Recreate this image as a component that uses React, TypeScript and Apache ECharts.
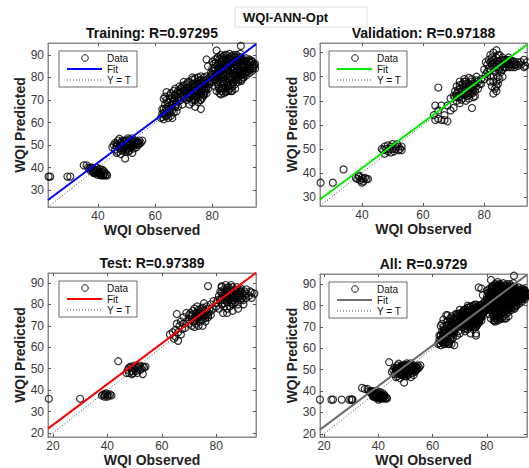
import React, { useEffect, useRef } from "react";
import * as echarts from "echarts";

const trainingPoints: number[][] = [
  [22.7, 36], [23.3, 36], [29.3, 36], [30.3, 36], [35, 41], [36, 41], [36.5, 40], [37, 39.5], [37.5, 40], [38, 39],
  [38.5, 38.5], [38, 40], [39, 39], [39.5, 38], [40, 37.5], [40.5, 38], [40, 39], [41, 37], [41.5, 38], [42, 37],
  [42.5, 36.5], [41, 36.5], [39, 37.5], [39.5, 40], [40.5, 39.5], [38.5, 37.5], [41.5, 39], [42, 38.5], [37.5, 38.5], [43, 37],
  [38.3, 38], [39.3, 38.8], [40.3, 38.2], [41.3, 37.8], [40.8, 37], [39.8, 36.8], [42.3, 37.8], [37.8, 39.5], [41.8, 36.5], [43.2, 36.5],
  [45, 49], [45.5, 50], [46, 48], [46, 51], [46.5, 49.5], [47, 47], [47, 50], [47, 52], [47.5, 48.5], [48, 49],
  [48, 51], [48, 50], [48.5, 47.5], [48.5, 52], [49, 48], [49, 50], [49, 51.5], [49.5, 49], [50, 50], [50, 52],
  [50, 48], [50.5, 51], [50.5, 49.5], [51, 50], [51, 52.5], [51, 47.5], [51.5, 49], [51.5, 51], [52, 50], [52, 52],
  [52.5, 48.5], [52.5, 51], [53, 50], [53, 52], [53.5, 49], [54, 51], [54, 50], [54.5, 52], [55, 51], [55.5, 52],
  [49.5, 44], [46.5, 46.5], [48, 46], [52, 46.5], [50.5, 53],
  [46.5, 50.5], [47.3, 49], [47.8, 51], [48.3, 48.5], [48.8, 50.5], [49.3, 52], [49.8, 49.5], [50.3, 50.5], [50.8, 48.5], [51.3, 51.5],
  [51.8, 50], [52.3, 49.5], [52.8, 51.5], [53.3, 50.5], [53.8, 51.5], [49.5, 47], [50.5, 47], [54.5, 50.5], [47.5, 52.8], [52, 53],
  [62, 62], [62.5, 64], [63, 61.5], [63, 66], [63.5, 63], [63.5, 68], [64, 65], [64, 70], [64.5, 62], [64.5, 67],
  [65, 64], [65, 72], [65, 69], [65.5, 66], [65.5, 73], [66, 62], [66, 68], [66, 71], [66.5, 64.5], [66.5, 74],
  [67, 67], [67, 70], [67, 72.5], [67.5, 65], [67.5, 69], [68, 71], [68, 74], [68, 67], [68.5, 73], [69, 70],
  [69, 75], [69.5, 68], [69.5, 72], [70, 74], [70, 71], [64, 73.5], [66, 65.5], [63, 70.5],
  [62.5, 66], [63, 64], [63.8, 66], [64.3, 69], [64.8, 65.5], [65.3, 70.5], [65.8, 67.5], [66.3, 69.5], [66.8, 72], [67.3, 68],
  [67.8, 73], [68.3, 69.5], [68.8, 71.5], [62.5, 62.5], [64, 63], [65.5, 63], [63.5, 71.5], [67, 75], [68.5, 76],
  [69, 73], [69.5, 76], [70, 72], [70, 76.5], [70.5, 74], [71, 70], [71, 73], [71, 77], [71.5, 75], [72, 68],
  [72, 71], [72, 74], [72, 78], [72.5, 76], [73, 69], [73, 72], [73, 75], [73, 79], [73.5, 71], [73.5, 77],
  [74, 67], [74, 70], [74, 73], [74, 76], [74, 79.5], [74.5, 72], [74.5, 78], [75, 69], [75, 71], [75, 74],
  [75, 77], [75, 80], [75.5, 72.5], [75.5, 75.5], [76, 66], [76, 70], [76, 73], [76, 76], [76, 79], [76.5, 71],
  [76.5, 78], [77, 72], [77, 75], [77, 80], [77.5, 74], [77.5, 77], [78, 73], [78, 76], [78, 79], [78.5, 75],
  [79, 77], [79, 80], [70.5, 71], [72.5, 72.5], [73.5, 74], [71.5, 72], [74.5, 74.5], [76.5, 74], [75.5, 78.5], [77.5, 78.5],
  [70.2, 75], [70.8, 73], [71.2, 75.5], [71.8, 71], [72.3, 73], [72.8, 77], [73.2, 70], [73.8, 76], [74.2, 71.5], [74.8, 77],
  [75.2, 75.5], [75.8, 70], [76.2, 77.5], [76.8, 72.5], [77.2, 76.5], [77.8, 75], [78.2, 77.5], [78.8, 78], [79.3, 78.5], [79.7, 81],
  [73.3, 73], [74.3, 75], [75.3, 72.5], [76.3, 75], [77.3, 73], [71.3, 74], [72.8, 74.5], [74.8, 73.5], [75.8, 76.5], [77, 78.5],
  [78, 80.5], [76, 80.5], [73, 80], [71.5, 78], [70, 78],
  [78, 88], [78.5, 85],
  [79.5, 82], [80, 78], [80, 84], [80, 87], [80.5, 80], [80.5, 86], [81, 76], [81, 79], [81, 83], [81, 88],
  [81.5, 74], [81.5, 81], [81.5, 85], [81.5, 92], [82, 77], [82, 80], [82, 83], [82, 86], [82, 89], [82.5, 73],
  [82.5, 75], [82.5, 82], [82.5, 88], [83, 74], [83, 78], [83, 81], [83, 84], [83, 87], [83, 90], [83.5, 76],
  [83.5, 80], [83.5, 85], [83.5, 89], [84, 73], [84, 77], [84, 82], [84, 86], [84, 88], [84.5, 75], [84.5, 79],
  [84.5, 84], [84.5, 90], [85, 74], [85, 78], [85, 81], [85, 85], [85, 88], [85.5, 76], [85.5, 83], [85.5, 87],
  [86, 75], [86, 79], [86, 82], [86, 86], [86, 89], [86.5, 77], [86.5, 84], [86.5, 88], [87, 76], [87, 80],
  [87, 83], [87, 86], [87, 89], [87.5, 78], [87.5, 82], [87.5, 85], [88, 77], [88, 81], [88, 84], [88, 87],
  [88, 89], [88.5, 79], [88.5, 83], [88.5, 86], [89, 78], [89, 80], [89, 82], [89, 85], [89, 88], [89.5, 84],
  [89.5, 87], [90, 79], [90, 81], [90, 83], [90, 86], [90, 88], [90, 94], [90.5, 82], [90.5, 85], [91, 80],
  [91, 83], [91, 86], [91, 88], [91.5, 82], [91.5, 85], [92, 81], [92, 84], [92, 87], [92.5, 83], [92.5, 86],
  [93, 82], [93, 85], [93, 88], [93.5, 84], [93.5, 86.5], [94, 83], [94, 85], [94, 87], [94.5, 86], [95, 84],
  [95, 86], [80, 81.5], [81, 81.5], [82.5, 84.5], [84, 80], [85.5, 80], [87, 74], [88, 75], [83, 72.5],
  [80.2, 83], [80.7, 79], [81.2, 86.5], [81.7, 78], [82.2, 84.5], [82.7, 79.5], [83.2, 86], [83.7, 78], [84.2, 84], [84.7, 87],
  [85.2, 76.5], [85.7, 85], [86.2, 80.5], [86.7, 87], [87.2, 79], [87.7, 84], [88.2, 82], [88.7, 88], [89.2, 81], [89.7, 83],
  [90.2, 87], [90.7, 80], [91.2, 84.5], [91.7, 87], [92.2, 82.5], [92.7, 85], [93.2, 83.5], [93.7, 87.5], [94.2, 84], [94.7, 85],
  [81.3, 80], [82.3, 81.5], [83.3, 83], [84.3, 81], [85.3, 83.5], [86.3, 84.5], [87.3, 81], [88.3, 85.5], [89.3, 83.5], [90.3, 84.5],
  [91.3, 81.5], [92.3, 85.5], [93.3, 86.5], [80.8, 84], [81.8, 88.5], [82.8, 87], [83.8, 88], [84.8, 86], [85.8, 88.5], [86.8, 89.5],
  [87.8, 87], [88.8, 89], [89.8, 89], [90.8, 87.5], [91.8, 88.5], [92.8, 87.5], [82.2, 76], [83.2, 75], [84.2, 75.5], [85.2, 77.5],
  [86.2, 77], [87.2, 77.5], [88.2, 79.5], [89.2, 79], [90.2, 78.5], [84.7, 73.5], [85.7, 74], [86.5, 74], [89.8, 90.5], [88.5, 90],
  [87.5, 90], [86, 90.5], [85, 90], [84, 89.5]
];

const validationPoints: number[][] = [
  [26.5, 36], [30.5, 36], [34, 41.5],
  [38, 38], [38.5, 37.5], [39, 38.5], [39.5, 37], [40, 36], [40, 38], [40.5, 37.5], [41, 38], [41.5, 37.5], [42, 37.5],
  [39, 39], [40.5, 36.5],
  [46.5, 50], [47, 49.5], [47.5, 48], [47.5, 51], [48, 50], [48.5, 49], [48.5, 51.5], [49, 50], [49.5, 48.5], [49.5, 51],
  [50, 50], [50, 52], [50.5, 49], [51, 51], [51, 50], [51.5, 52], [52, 49.5], [52, 51], [52.5, 50], [53, 51], [53, 49.5],
  [65, 75.5], [64, 68], [63.5, 64], [65, 66], [66, 62], [67, 62], [68, 68], [69, 71], [66, 68], [67, 64],
  [68, 61.5], [65, 62.5], [64, 62], [69, 66], [70, 67],
  [70, 72], [70.5, 74], [71, 70], [71, 73], [71, 76], [72, 69], [72, 72], [72, 75], [72, 78], [72.5, 70.5],
  [73, 71], [73, 74], [73, 77], [73.5, 79], [74, 70], [74, 73], [74, 76], [74, 78], [74.5, 72], [75, 71],
  [75, 74], [75, 77], [75, 79.5], [75.5, 75.5], [76, 67], [76, 73], [76, 76], [76, 79], [76.5, 71.5], [77, 74],
  [77, 77], [77.5, 80], [78, 75], [78, 78], [79, 77], [79, 79], [71.5, 71.5], [73.5, 72.5], [74.5, 75], [76.5, 74.5],
  [77, 72],
  [71.5, 74.5], [72.5, 73], [73.5, 75.5], [74.5, 73.5], [75.5, 73], [76, 75], [73, 72.5], [72, 76.5], [74, 77], [75, 76],
  [76.5, 77], [77.5, 76], [78.5, 77], [70.5, 71.5], [71, 72], [73.5, 78], [75, 72.5], [76, 78], [77.5, 78.5], [74, 74.5],
  [80, 79], [80, 83], [80.5, 86], [81, 82], [81, 85], [81.5, 87], [82, 78], [82, 83], [82, 86], [82, 89],
  [82.5, 76], [83, 73], [83, 80], [83, 84], [83, 87], [83, 90], [83.5, 75], [83.5, 82], [84, 78], [84, 85],
  [84, 88], [84, 91], [84.5, 80], [84.5, 83], [85, 86], [85, 89], [85, 84], [85.5, 82], [86, 85], [86, 88],
  [86, 83], [86.5, 86.5], [87, 84], [87, 87], [87.5, 85.5], [88, 84], [88, 86], [88, 88], [88.5, 85], [89, 84],
  [89, 86], [89.5, 85], [90, 84], [90, 86], [90.5, 85], [91, 84.5], [92, 85], [93, 87], [93.5, 84.5], [94, 86],
  [84, 76], [85, 79], [82, 80.5], [86, 80],
  [80.5, 81], [81.5, 83.5], [82.5, 85], [83.5, 86], [84.5, 86.5], [85.5, 85], [86.5, 84], [87.5, 87], [88.5, 87], [89.5, 86.5],
  [84, 84], [85, 83], [86, 87], [87, 85.5], [83, 85.5], [82.5, 88], [84.5, 89], [88, 85], [90, 85], [91, 86],
  [92, 86], [81, 80], [83, 78], [84.5, 77], [87, 86], [84, 74], [93, 84]
];

const testPoints: number[][] = [
  [18.5, 36], [30, 36], [44, 53.5],
  [38, 37.5], [38.5, 38], [39, 37], [39.5, 38.5], [40, 38], [40.5, 37.5], [41, 38], [41.5, 37.5], [39, 38], [40, 37],
  [47, 48], [47.5, 49.5], [48, 50.5], [48, 48], [48.5, 51], [49, 49], [49, 50.5], [49.5, 48], [50, 50], [50, 51.5],
  [50.5, 49], [51, 50.5], [51, 48], [51.5, 51], [52, 49.5], [52, 51.5], [52.5, 50], [53, 51], [53, 47.5], [53.5, 50.5],
  [54, 51], [49, 47.5],
  [63, 66], [64, 67], [64.5, 64], [65, 65], [65, 68], [65.5, 71], [65.5, 75.5], [66, 63], [66, 67], [66.5, 70],
  [67, 72], [67, 66], [67.5, 68.5], [68, 74], [68, 71], [68.5, 69], [69, 76], [69, 72], [70, 75], [70, 73],
  [70, 71], [70.5, 76], [71, 70], [71, 73], [71, 75], [71.5, 77], [72, 69.5], [72, 72], [72, 74], [72, 78],
  [72.5, 71], [73, 73], [73, 76], [73, 79], [73.5, 70], [74, 72], [74, 74], [74, 77], [74.5, 75.5], [75, 70],
  [75, 73], [75, 76], [75, 78.5], [75.5, 80.5], [76, 72], [76, 75], [76, 77], [76.5, 79], [77, 74], [77, 76],
  [77.5, 78], [78, 75], [78, 77], [78, 80], [79, 78], [79, 81.5], [80, 79], [80, 80.5], [77, 88.5],
  [71.5, 72], [72.5, 73.5], [73.5, 74.5], [74.5, 73], [75.5, 74.5], [76.5, 76], [73, 75], [74, 75.5], [75, 74.5], [72.5, 76],
  [76, 73.5], [77, 75], [74.5, 78], [73.5, 77.5], [75.5, 77],
  [80.5, 82], [81, 84], [81, 78], [81.5, 86], [82, 80], [82, 83], [82, 88], [82.5, 76], [83, 79], [83, 82],
  [83, 85], [83, 87], [83.5, 89], [84, 78], [84, 81], [84, 84], [84, 86], [84.5, 88], [85, 79], [85, 82],
  [85, 85], [85, 87], [85.5, 89], [86, 80], [86, 83], [86, 86], [86, 88], [86.5, 82], [87, 81], [87, 84],
  [87, 86.5], [87.5, 88], [88, 80], [88, 83], [88, 85], [88.5, 87], [89, 82], [89, 84], [89, 86], [89.5, 83],
  [90, 84], [90, 82], [90.5, 86], [91, 83], [91, 85], [92, 84], [92.5, 86], [93, 83], [93, 85.5], [94, 85],
  [82, 88.5], [83, 84], [88, 78], [86, 77], [90, 80], [84, 76], [91, 87],
  [81.5, 82], [82.5, 84.5], [83.5, 83], [84.5, 85], [85.5, 84], [86.5, 85], [87.5, 84.5], [88.5, 84], [89.5, 85.5], [84, 87.5],
  [85, 86], [86, 84.5], [87, 83], [88, 86.5], [83, 80.5], [84.5, 82.5], [86.5, 80.5], [89, 87.5], [85.5, 81], [82, 85.5],
  [87.5, 86], [84, 83], [86, 82]
];

const allPoints: number[][] = [...trainingPoints, ...validationPoints, ...testPoints];

const panelData = [trainingPoints, validationPoints, testPoints, allPoints];
const panelTitles = ["Training: R=0.97295", "Validation: R=0.97188", "Test: R=0.97389", "All: R=0.9729"];
const axisMins = [22.5, 26.3, 18.2, 18.5];
const axisMaxs = [95.3, 94.0, 94.6, 94.8];
const xTicks = [[40, 60, 80], [40, 60, 80], [20, 40, 60, 80], [20, 40, 60, 80]];
const yTicks = [
  [30, 40, 50, 60, 70, 80, 90],
  [30, 40, 50, 60, 70, 80, 90],
  [20, 30, 40, 50, 60, 70, 80, 90],
  [20, 30, 40, 50, 60, 70, 80, 90]
];
const fitSlopes = [0.95, 0.95, 0.95, 0.95];
const fitIntercepts = [4.2, 4.0, 4.8, 4.4];
const fitColors = ["#0000ff", "#00ee00", "#ff0000", "#6e6e6e"];
const legendLabels = ["Data", "Fit", "Y = T"];
const figureTitle = "WQI-ANN-Opt";
const xAxisName = "WQI Observed";
const yAxisName = "WQI Predicted";

const gridRects = [
  { left: 48, top: 43, width: 208, height: 164 },
  { left: 320, top: 43, width: 207, height: 163 },
  { left: 48, top: 273, width: 208, height: 164 },
  { left: 320, top: 274, width: 207, height: 163 }
];

const FONT = '"Liberation Sans", Arial, Helvetica, sans-serif';
const AXIS_COLOR = "#8a8a8a";
const LABEL_COLOR = "#3a3a3a";

function buildOption() {
  const grid: any[] = [];
  const xAxis: any[] = [];
  const yAxis: any[] = [];
  const series: any[] = [];
  const graphic: any[] = [];

  gridRects.forEach((g, i) => {
    grid.push({ ...g, show: true, borderColor: AXIS_COLOR, borderWidth: 1, backgroundColor: "#fff" });
    const min = axisMins[i];
    const max = axisMaxs[i];
    const tickStyle = { show: true, inside: true, length: 3, lineStyle: { color: "#555", width: 1 } };
    xAxis.push({
      type: "value", gridIndex: i, min, max, position: "bottom",
      axisLine: { show: true, onZero: false, lineStyle: { color: AXIS_COLOR } },
      axisTick: { ...tickStyle, customValues: xTicks[i] },
      axisLabel: { customValues: xTicks[i], color: LABEL_COLOR, fontSize: 12, fontFamily: FONT, margin: 3 },
      splitLine: { show: false },
      name: xAxisName, nameLocation: "middle", nameGap: 10,
      nameTextStyle: { fontWeight: "bold", fontSize: 14, color: "#222", fontFamily: FONT }
    });
    xAxis.push({
      type: "value", gridIndex: i, min, max, position: "top",
      axisLine: { show: true, onZero: false, lineStyle: { color: AXIS_COLOR } },
      axisTick: { ...tickStyle, customValues: xTicks[i] },
      axisLabel: { show: false },
      splitLine: { show: false }
    });
    yAxis.push({
      type: "value", gridIndex: i, min, max, position: "left",
      axisLine: { show: true, onZero: false, lineStyle: { color: AXIS_COLOR } },
      axisTick: { ...tickStyle, customValues: yTicks[i] },
      axisLabel: { customValues: yTicks[i], color: LABEL_COLOR, fontSize: 12, fontFamily: FONT, margin: 4 },
      splitLine: { show: false },
      name: yAxisName, nameLocation: "middle", nameGap: 21, nameRotate: 90,
      nameTextStyle: { fontWeight: "bold", fontSize: 14, color: "#222", fontFamily: FONT }
    });
    yAxis.push({
      type: "value", gridIndex: i, min, max, position: "right",
      axisLine: { show: true, onZero: false, lineStyle: { color: AXIS_COLOR } },
      axisTick: { ...tickStyle, customValues: yTicks[i] },
      axisLabel: { show: false },
      splitLine: { show: false }
    });

    const xi = i * 2;
    const yi = i * 2;
    series.push({
      type: "scatter", xAxisIndex: xi, yAxisIndex: yi, data: panelData[i],
      symbol: "circle", symbolSize: 7, z: 2,
      itemStyle: { color: "rgba(0,0,0,0)", borderColor: "#000", borderWidth: 1.2 },
      emphasis: { disabled: true }
    });
    series.push({
      type: "line", xAxisIndex: xi, yAxisIndex: yi, z: 3,
      data: [[min, min], [max, max]], symbol: "none",
      lineStyle: { color: "#444", width: 1, type: [1, 2] }
    });
    series.push({
      type: "line", xAxisIndex: xi, yAxisIndex: yi, z: 4,
      data: [
        [min, fitSlopes[i] * min + fitIntercepts[i]],
        [max, fitSlopes[i] * max + fitIntercepts[i]]
      ],
      symbol: "none",
      lineStyle: { color: fitColors[i], width: 2 }
    });

    graphic.push({
      type: "text", x: g.left + g.width / 2, y: g.top - 10, z: 100,
      style: {
        text: panelTitles[i], fill: "#111", font: `bold 14px ${FONT}`,
        align: "center", verticalAlign: "middle", textAlign: "center", textVerticalAlign: "middle"
      }
    });

    const lx = g.left + (i % 2 === 0 ? 11 : 9);
    const ly = g.top + 8;
    const rows = [7, 18, 29];
    graphic.push({
      type: "group", x: lx, y: ly, z: 100,
      children: [
        { type: "rect", shape: { x: 0, y: 0, width: 78, height: 36 }, style: { fill: "#fff", stroke: "#444", lineWidth: 0.8 } },
        { type: "circle", shape: { cx: 26, cy: rows[0], r: 3.3 }, style: { fill: "none", stroke: "#000", lineWidth: 0.9 } },
        { type: "line", shape: { x1: 8, y1: rows[1], x2: 43, y2: rows[1] }, style: { stroke: fitColors[i], lineWidth: 2 } },
        { type: "line", shape: { x1: 8, y1: rows[2], x2: 43, y2: rows[2] }, style: { stroke: "#444", lineWidth: 1, lineDash: [1, 2] } },
        ...legendLabels.map((t, k) => ({
          type: "text", x: 48, y: rows[k],
          style: { text: t, fill: "#111", font: `10px ${FONT}`, align: "left", verticalAlign: "middle", textAlign: "left", textVerticalAlign: "middle" }
        }))
      ]
    });
  });

  graphic.push({
    type: "group", x: 235, y: 7, z: 100,
    children: [
      { type: "rect", shape: { x: 0, y: 0, width: 132, height: 20 }, style: { fill: "#fff", stroke: "#e2e2e2", lineWidth: 1 } },
      {
        type: "text", x: 8, y: 10,
        style: { text: figureTitle, fill: "#111", font: `bold 13px ${FONT}`, align: "left", verticalAlign: "middle", textAlign: "left", textVerticalAlign: "middle" }
      }
    ]
  });

  return {
    animation: false,
    backgroundColor: "#fff",
    grid, xAxis, yAxis, series, graphic
  };
}

export default function App() {
  const ref = useRef<HTMLDivElement>(null);
  useEffect(() => {
    if (!ref.current) return;
    const chart = echarts.init(ref.current, undefined, { renderer: "svg" });
    chart.setOption(buildOption() as any);
    return () => chart.dispose();
  }, []);
  return (
    <div
      ref={ref}
      style={{ position: "fixed", left: 0, top: 0, width: 529, height: 468, background: "#fff" }}
    />
  );
}
